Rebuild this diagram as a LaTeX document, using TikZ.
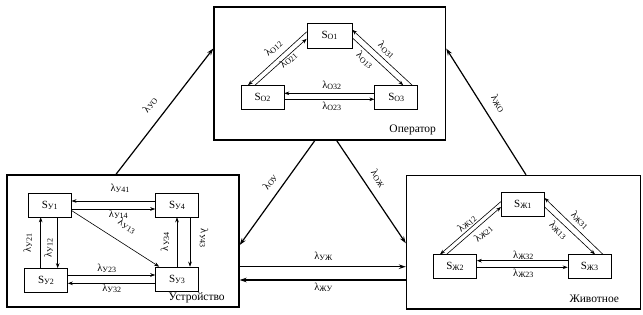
\documentclass[tikz,border=0pt]{standalone}
\usepackage{fontspec}
\setmainfont{Liberation Serif}
\usetikzlibrary{arrows.meta}
\newcommand\sbs[1]{\raisebox{-1pt}{\fontsize{8}{8}\selectfont #1}}
\begin{document}
\begin{tikzpicture}[x=1pt,y=-1pt,
 box/.style={draw, line width=1.4pt, inner sep=0pt},
 st/.style={draw, line width=0.6pt, minimum width=43pt, minimum height=24pt, inner sep=0pt, font=\fontsize{11}{11}\selectfont},
 ar/.style={-{Stealth[length=5pt,width=3.6pt]}, line width=0.6pt},
 big/.style={-{Stealth[length=7pt,width=4.6pt]}, line width=1.2pt},
 lbl/.style={font=\fontsize{10.5}{10.5}\selectfont, inner sep=0pt},
 ttl/.style={font=\fontsize{11.5}{11.5}\selectfont, inner sep=0pt}]
\useasboundingbox (0,0) rectangle (643,315);
% big boxes
\node[box, minimum width=231.5pt, minimum height=133pt] (op) at (329.75,73.5) {};
\node[box, minimum width=232pt, minimum height=132pt] (dev) at (123,241) {};
\node[box, minimum width=234pt, minimum height=133.5pt] (an) at (523.5,242.25) {};
% Operator
\node[st, minimum width=45pt, minimum height=25pt] (so1) at (329.5,35.8) {S\sbs{О1}};
\node[st] (so2) at (262.5,97.5) {S\sbs{О2}};
\node[st] (so3) at (396.2,97.5) {S\sbs{О3}};
\draw[ar] ([yshift=4pt]so1.west) -- ([xshift=-14.5pt]so2.north);
\draw[ar] ([xshift=-7.5pt]so2.north) -- ([yshift=-3pt]so1.west);
\draw[ar] ([yshift=-2pt]so1.east) -- ([xshift=7pt]so3.north);
\draw[ar] ([xshift=16pt]so3.north) -- ([yshift=6pt]so1.east);
\draw[ar] ([yshift=4.2pt]so3.west) -- ([yshift=4.2pt]so2.east);
\draw[ar] ([yshift=-1.8pt]so2.east) -- ([yshift=-1.8pt]so3.west);
\node[lbl, rotate=42] (lo12) at (273.3,48.3) {λ\sbs{О12}};
\node[lbl, rotate=42] (lo21) at (288.3,60) {λ\sbs{О21}};
\node[lbl, rotate=-43] (lo31) at (386.7,50) {λ\sbs{О31}};
\node[lbl, rotate=-43] (lo13) at (365,60) {λ\sbs{О13}};
\node[lbl] (lo32) at (331.7,85) {λ\sbs{О32}};
\node[lbl] (lo23) at (331.7,106) {λ\sbs{О23}};
\node[ttl] (tO) at (412.7,130) {Оператор};
% Device
\node[st] (sy1) at (49.7,205) {S\sbs{У1}};
\node[st] (sy4) at (177,205) {S\sbs{У4}};
\node[st] (sy2) at (46,280.5) {S\sbs{У2}};
\node[st] (sy3) at (177,279) {S\sbs{У3}};
\draw[ar] ([yshift=4pt]sy4.west) -- ([yshift=4pt]sy1.east);
\draw[ar] ([yshift=-4pt]sy1.east) -- ([yshift=-4pt]sy4.west);
\draw[ar] ([yshift=-5.5pt]sy1.east) -- ([xshift=4pt]sy3.north west);
\draw[ar] ([xshift=-9pt]sy1.south |- sy2.north) -- ([xshift=-9pt]sy1.south);
\draw[ar] ([xshift=8pt]sy1.south) -- ([xshift=8pt]sy1.south |- sy2.north);
\draw[ar] (sy3.north) -- (sy4.south);
\draw[ar] ([xshift=13pt]sy4.south) -- ([xshift=13pt]sy3.north);
\draw[ar] ([yshift=5.5pt]sy2.east) -- ([yshift=5.5pt]sy2.east -| sy3.west);
\draw[ar] ([yshift=-4.3pt]sy3.west) -- ([yshift=-4.3pt]sy3.west -| sy2.east);
\node[lbl] (ly41) at (120,188.3) {λ\sbs{У41}};
\node[lbl] (ly14) at (118.3,214.3) {λ\sbs{У14}};
\node[lbl, rotate=-31] (ly13) at (127,226) {λ\sbs{У13}};
\node[lbl, rotate=90] (ly21) at (27.7,243) {λ\sbs{У21}};
\node[lbl, rotate=90] (ly12) at (48.5,248) {λ\sbs{У12}};
\node[lbl, rotate=90] (ly34) at (165,241.7) {λ\sbs{У34}};
\node[lbl, rotate=-90] (ly43) at (204,238.3) {λ\sbs{У43}};
\node[lbl] (ly23) at (106.7,268.3) {λ\sbs{У23}};
\node[lbl] (ly32) at (111.7,288.3) {λ\sbs{У32}};
\node[ttl] (tY) at (196.7,297.7) {Устройство};
% Animal
\node[st] (sz1) at (522.8,204) {S\sbs{Ж1}};
\node[st] (sz2) at (455,266.7) {S\sbs{Ж2}};
\node[st] (sz3) at (589.5,266.7) {S\sbs{Ж3}};
\draw[ar] ([yshift=2.5pt]sz1.west) -- ([xshift=-15pt]sz2.north);
\draw[ar] ([xshift=-8.5pt]sz2.north) -- ([yshift=-3pt]sz1.west);
\draw[ar] ([yshift=-3pt]sz1.east) -- ([xshift=5.5pt]sz3.north);
\draw[ar] ([xshift=13.5pt]sz3.north) -- ([yshift=6pt]sz1.east);
\draw[ar] ([yshift=6pt]sz3.west) -- ([yshift=6pt]sz2.east);
\draw[ar] ([yshift=-0.6pt]sz2.east) -- ([yshift=-0.6pt]sz3.west);
\node[lbl, rotate=41] (lz12) at (466.7,223.3) {λ\sbs{Ж12}};
\node[lbl, rotate=41] (lz21) at (483.3,233.3) {λ\sbs{Ж21}};
\node[lbl, rotate=-44] (lz31) at (580,220) {λ\sbs{Ж31}};
\node[lbl, rotate=-44] (lz13) at (558.3,230) {λ\sbs{Ж13}};
\node[lbl] (lz32) at (523.3,255) {λ\sbs{Ж32}};
\node[lbl] (lz23) at (523.3,273.3) {λ\sbs{Ж23}};
\node[ttl] (tZ) at (594.3,298.3) {Животное};
% between boxes
\draw[big] ([xshift=-7pt]dev.north) -- ([yshift=25pt]op.west);
\draw[big] ([xshift=2.5pt]an.north) -- ([yshift=25pt]op.east);
\draw[big] ([xshift=-15pt]op.south) -- ([yshift=-4pt]dev.east);
\draw[big] ([xshift=7pt]op.south) -- ([yshift=-1pt]an.west);
\draw[big] ([yshift=-25.7pt]dev.east) -- ([yshift=-25.7pt]dev.east -| an.west);
\draw[big] ([yshift=-39pt]dev.east -| an.west) -- ([yshift=-39pt]dev.east);
\node[lbl, rotate=52.5] (lyo) at (150,105) {λ\sbs{УО}};
\node[lbl, rotate=-57.7] (lzo) at (498.3,103.3) {λ\sbs{ЖО}};
\node[lbl, rotate=54.6] (loy) at (270,181.7) {λ\sbs{ОУ}};
\node[lbl, rotate=-55.7] (loz) at (378.3,178.3) {λ\sbs{ОЖ}};
\node[lbl] (lyz) at (323.3,256.7) {λ\sbs{УЖ}};
\node[lbl] (lzy) at (323.3,287.3) {λ\sbs{ЖУ}};
\end{tikzpicture}
\end{document}
